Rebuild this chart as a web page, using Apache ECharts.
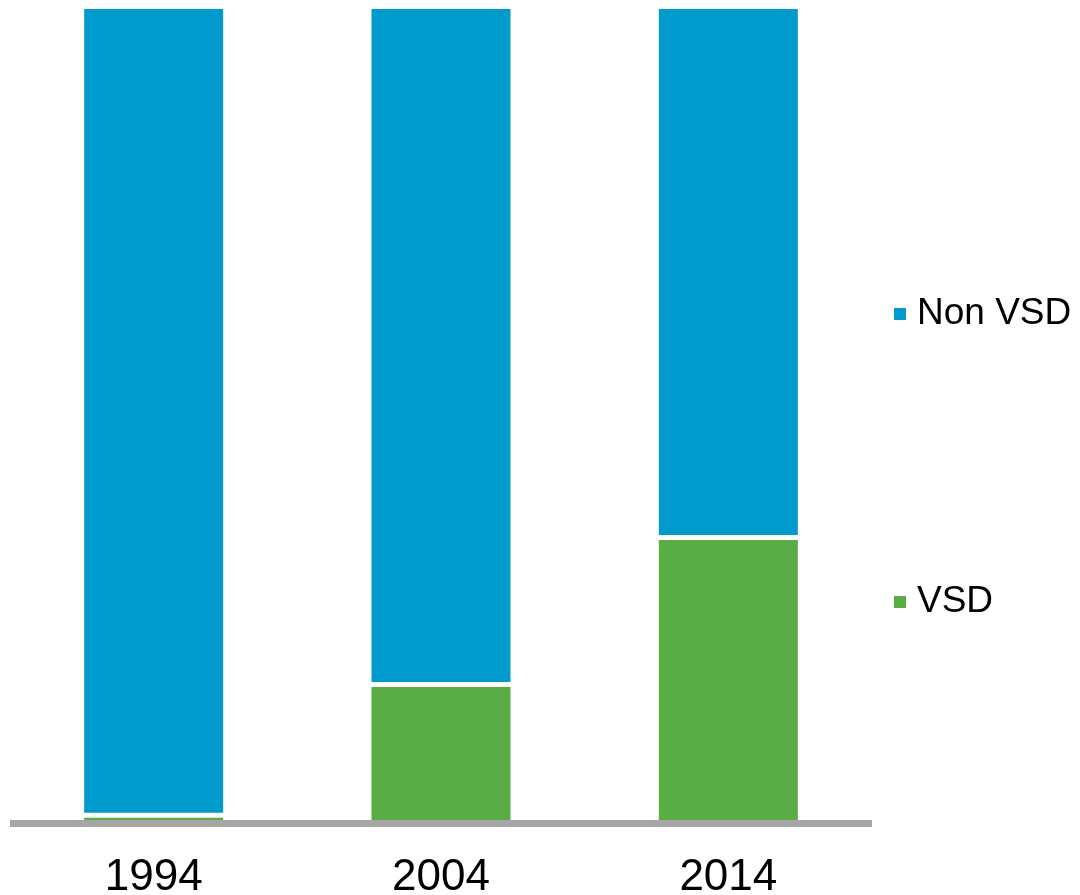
<!DOCTYPE html>
<html>
<head>
<meta charset="utf-8">
<script src="https://cdn.jsdelivr.net/npm/echarts@6/dist/echarts.min.js"></script>
<style>html,body{margin:0;padding:0;background:#fff}#c{width:1080px;height:895px}</style>
</head>
<body>
<div id="c"></div>
<script>
var categories = ['1994', '2004', '2014'];
var vsd = [1, 17, 35];
var nonVsd = [99, 83, 65];

var chart = echarts.init(document.getElementById('c'));
chart.setOption({
  animation: false,
  grid: { left: 10, right: 208, top: 6.5, bottom: 71.5, outerBoundsMode: 'none', containLabel: false },
  legend: {
    orient: 'vertical',
    left: 887,
    top: 289,
    itemGap: 248,
    itemWidth: 14,
    itemHeight: 14,
    icon: 'rect',
    data: ['Non VSD', 'VSD'],
    textStyle: { fontFamily: 'Liberation Sans', fontSize: 37, color: '#000', lineHeight: 40, padding: [0, 0, 0, 5] }
  },
  xAxis: {
    type: 'category',
    data: categories,
    z: 10,
    axisLine: { lineStyle: { color: '#a6a6a6', width: 7, cap: 'butt' } },
    axisTick: { show: false },
    axisLabel: { fontFamily: 'Liberation Sans', fontSize: 44, color: '#000', margin: 32 }
  },
  yAxis: {
    type: 'value',
    min: 0,
    max: 100,
    show: false,
    splitLine: { show: false }
  },
  series: [
    {
      name: 'VSD', type: 'bar', stack: 'a', data: vsd, barWidth: 144,
      itemStyle: { color: '#5aac44', borderColor: '#fff', borderWidth: 2.5 }
    },
    {
      name: 'Non VSD', type: 'bar', stack: 'a', data: nonVsd, barWidth: 144,
      itemStyle: { color: '#009acd', borderColor: '#fff', borderWidth: 2.5 }
    }
  ]
});
</script>
</body>
</html>
